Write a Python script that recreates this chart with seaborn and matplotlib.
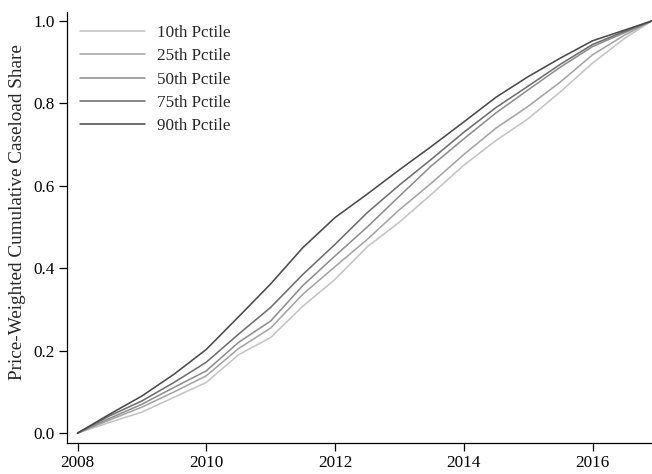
import matplotlib
matplotlib.use("Agg")
import matplotlib.pyplot as plt
import pandas as pd
import seaborn as sns

# Half-year observation dates
dates = [2008.0, 2008.5, 2009.0, 2009.5, 2010.0, 2010.5, 2011.0, 2011.5,
         2012.0, 2012.5, 2013.0, 2013.5, 2014.0, 2014.5, 2015.0, 2015.5,
         2016.0, 2016.5, 2016.917]

# Price-weighted cumulative caseload share by percentile
p10 = [0.0, 0.026, 0.051, 0.087, 0.123, 0.190, 0.232, 0.308, 0.373, 0.452,
       0.512, 0.580, 0.650, 0.710, 0.763, 0.828, 0.898, 0.958, 1.0]
p25 = [0.0, 0.032, 0.063, 0.100, 0.139, 0.205, 0.255, 0.337, 0.404, 0.470,
       0.542, 0.607, 0.676, 0.740, 0.793, 0.852, 0.918, 0.966, 1.0]
p50 = [0.0, 0.036, 0.070, 0.111, 0.151, 0.220, 0.272, 0.358, 0.430, 0.500,
       0.575, 0.649, 0.714, 0.777, 0.833, 0.888, 0.938, 0.972, 1.0]
p75 = [0.0, 0.042, 0.078, 0.123, 0.172, 0.240, 0.305, 0.385, 0.458, 0.535,
       0.602, 0.665, 0.730, 0.790, 0.842, 0.895, 0.943, 0.975, 1.0]
p90 = [0.0, 0.046, 0.090, 0.143, 0.203, 0.282, 0.362, 0.450, 0.523, 0.580,
       0.639, 0.696, 0.755, 0.815, 0.865, 0.910, 0.952, 0.978, 1.0]

labels = ["10th Pctile", "25th Pctile", "50th Pctile", "75th Pctile", "90th Pctile"]
series = [p10, p25, p50, p75, p90]
colors = ["#c4c4c4", "#a4a4a4", "#8e8e8e", "#6e6e6e", "#4a4a4a"]

x_ticks = [2008, 2010, 2012, 2014, 2016]
y_ticks = [0.0, 0.2, 0.4, 0.6, 0.8, 1.0]

frames = [pd.DataFrame({"date": dates, "share": s, "pctile": lab})
          for s, lab in zip(series, labels)]
df = pd.concat(frames, ignore_index=True)

sns.set_style("ticks")
plt.rcParams["font.family"] = ["Liberation Serif", "DejaVu Serif"]

fig = plt.figure(figsize=(6.52, 4.74), dpi=100)
ax = fig.add_axes([0.1023, 0.0654, 0.8977, 0.9099])

sns.lineplot(data=df, x="date", y="share", hue="pctile", hue_order=labels,
             palette=colors, linewidth=1.15, ax=ax, legend=False)

for lab, col in zip(labels, colors):
    ax.plot([], [], color=col, linewidth=1.15, label=lab)
ax.legend(loc="upper left", frameon=False, fontsize=12.3, handlelength=3.8,
          handletextpad=0.7, labelspacing=0.43, borderaxespad=0.38,
          bbox_to_anchor=(0.0, 1.0))

ax.set_xlim(2007.832, 2016.924)
ax.set_ylim(-0.024, 1.0226)
ax.set_xticks(x_ticks)
ax.set_yticks(y_ticks)
ax.set_yticklabels([f"{v:.1f}" for v in y_ticks])
ax.set_xlabel("")
ax.set_ylabel("Price-Weighted Cumulative Caseload Share", fontsize=13.8)
ax.yaxis.set_label_coords(-0.07, 0.535)
ax.tick_params(axis="both", direction="out", length=5.5, width=0.9,
               labelsize=12.3, colors="black", pad=3)
for side in ["top", "right"]:
    ax.spines[side].set_visible(False)
for side in ["left", "bottom"]:
    ax.spines[side].set_color("black")
    ax.spines[side].set_linewidth(0.9)

fig.savefig("out.png", dpi=100)
